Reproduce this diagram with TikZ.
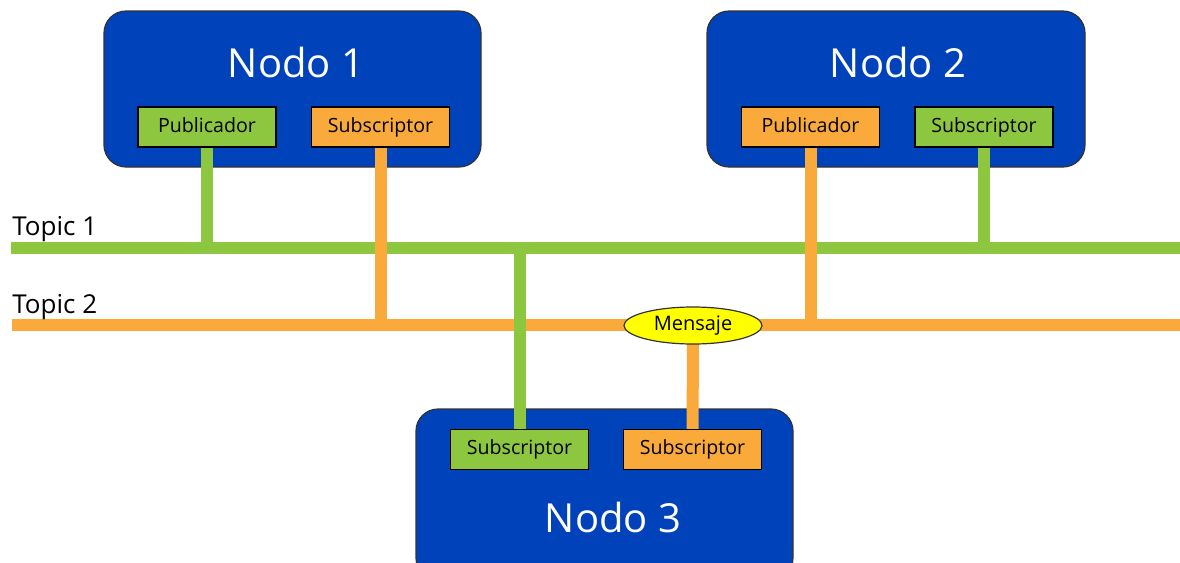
\documentclass[tikz,border=0pt]{standalone}
\usepackage{fontspec}
\setmainfont{Open Sans}
\usetikzlibrary{shapes.geometric}
\definecolor{nodeblue}{RGB}{0,66,186}
\definecolor{tgreen}{RGB}{141,198,63}
\definecolor{torange}{RGB}{250,170,58}
\definecolor{myellow}{RGB}{255,255,0}
\tikzset{
  bigbox/.style={draw=black!80, line width=0.6pt, fill=nodeblue, rounded corners=11pt, minimum width=188.5pt, inner sep=0pt},
  bigtext/.style={text=white, font=\fontsize{20}{24}\selectfont, inner sep=0pt},
  smallbox/.style={draw=black, line width=0.6pt, minimum width=69pt, minimum height=20pt, inner sep=0pt, text height=7.5pt, text depth=2.2pt, font=\fontsize{9.8}{12}\selectfont},
  gbox/.style={smallbox, fill=tgreen},
  obox/.style={smallbox, fill=torange},
  gline/.style={draw=tgreen, line width=6pt},
  oline/.style={draw=torange, line width=6pt},
  topiclabel/.style={anchor=base west, inner sep=0pt, font=\fontsize{13}{16}\selectfont},
  msg/.style={ellipse, draw=black!80, line width=0.6pt, fill=myellow, minimum width=69pt, minimum height=18.5pt, inner sep=0pt, text height=7.5pt, text depth=2.2pt, font=\fontsize{10}{12}\selectfont}
}
\begin{document}
\begin{tikzpicture}[x=0.5pt, y=-0.5pt]
\useasboundingbox (0,0) rectangle (1180,563);
\clip (0,0) rectangle (1180,563);
% topic lines
\coordinate (t1a) at (11,247.5);
\coordinate (t1b) at (1180,247.5);
\coordinate (t2a) at (12,325);
\coordinate (t2b) at (1180,325);
\draw[gline] (t1a) -- (t1b);
\draw[oline] (t2a) -- (t2b);
\node[topiclabel] (lt1) at (12,235) {Topic 1};
\node[topiclabel] (lt2) at (12,313) {Topic 2};
% big boxes
\node[bigbox, minimum height=78pt] (n1) at (292.5,89) {};
\node[bigbox, minimum height=78pt, minimum width=189pt] (n2) at (896,89) {};
\node[bigbox, minimum height=85.5pt] (n3) at (604.5,494.5) {};
\node[bigtext] (n1t) at (296,62) {Nodo 1};
\node[bigtext] (n2t) at (898,62) {Nodo 2};
\node[bigtext] (n3t) at (613,517) {Nodo 3};
% small boxes (positions)
\coordinate (p1c) at (207,127);
\coordinate (s1c) at (380.5,127);
\coordinate (p2c) at (810.5,127);
\coordinate (s2c) at (984,127);
\coordinate (s3gc) at (519.5,449.5);
\coordinate (s3oc) at (692.5,449.5);
\coordinate (mc) at (693,325.5);
% connectors
\coordinate (p1t) at (p1c |- t1a);
\coordinate (s1t) at (s1c |- t2a);
\coordinate (p2t) at (p2c |- t2a);
\coordinate (s2t) at (s2c |- t1a);
\coordinate (s3gt) at ([yshift=3pt]s3gc |- t1a);
\draw[gline] (p1c) -- ([yshift=3pt]p1t);
\draw[oline] (s1c) -- (s1t);
\draw[oline] (p2c) -- (p2t);
\draw[gline] (s2c) -- ([yshift=3pt]s2t);
\draw[gline] (s3gc) -- (s3gt);
\draw[oline] (s3oc) -- (mc);
% small boxes
\node[gbox] (p1) at (p1c) {Publicador};
\node[obox] (s1) at (s1c) {Subscriptor};
\node[obox] (p2) at (p2c) {Publicador};
\node[gbox] (s2) at (s2c) {Subscriptor};
\node[gbox] (s3g) at (s3gc) {Subscriptor};
\node[obox] (s3o) at (s3oc) {Subscriptor};
\node[msg] (m) at (mc) {Mensaje};
\end{tikzpicture}
\end{document}
